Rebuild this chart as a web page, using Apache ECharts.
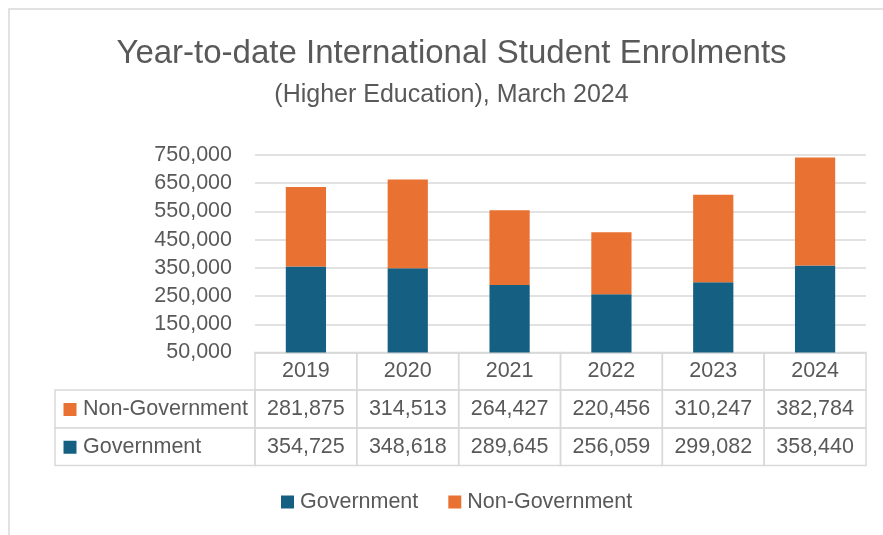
<!DOCTYPE html>
<html>
<head>
<meta charset="utf-8">
<script src="https://cdn.jsdelivr.net/npm/echarts@6/dist/echarts.min.js"></script>
<style>
  html, body { margin: 0; padding: 0; background: #ffffff; }
  #chart { width: 883px; height: 535px; }
</style>
</head>
<body>
<div id="chart"></div>
<script>
// ---- data ----
const years = ['2019', '2020', '2021', '2022', '2023', '2024'];
const government = [354725, 348618, 289645, 256059, 299082, 358440];
const nonGovernment = [281875, 314513, 264427, 220456, 310247, 382784];
const seriesNames = ['Government', 'Non-Government'];
const yMin = 50000;
const yMax = 750000;
const yStep = 100000;

// ---- layout / style constants ----
const W = 883, H = 535;
const gridLeft = 255, gridRight = 866, gridTop = 155, axisY = 352.5;
const tableLeft = 55;
const rowH = [37.5, 38, 37.5];
const colW = (gridRight - gridLeft) / years.length;
const textColor = '#595959';
const lineColor = '#d9d9d9';
const govColor = '#156082';
const nonGovColor = '#E97132';
const font = 'Liberation Sans, Arial, sans-serif';
const fs = 21.5;

const fmt = v => v.toLocaleString('en-US');

const chart = echarts.init(document.getElementById('chart'), null, { renderer: 'canvas' });

const cellStyle = (h) => ({
  width: colW, height: h, lineHeight: h,
  align: 'center', verticalAlign: 'middle',
  fontSize: fs, fontFamily: font, color: textColor,
  borderColor: lineColor, borderWidth: 1.5, padding: 0
});

const row1Top = axisY + rowH[0];
const row2Top = row1Top + rowH[1];

const headerCell = (top, h, name, color) => ({
  type: 'group',
  children: [
    { type: 'rect', shape: { x: tableLeft, y: top, width: gridLeft - tableLeft, height: h },
      style: { fill: '#fff', stroke: lineColor, lineWidth: 1.5 } },
    { type: 'rect', shape: { x: tableLeft + 8.5, y: top + h / 2 - 6, width: 13, height: 13 },
      style: { fill: color } },
    { type: 'text', x: tableLeft + 28, y: top + h / 2,
      style: { text: name, fill: textColor, font: fs + 'px ' + font, textVerticalAlign: 'middle', textAlign: 'left' } }
  ]
});

const option = {
  backgroundColor: '#ffffff',
  animation: false,
  title: [
    { text: 'Year-to-date International Student Enrolments', left: 446.5, top: 32, textAlign: 'center',
      textStyle: { fontSize: 33, fontWeight: 'normal', color: textColor, fontFamily: font } },
    { text: '(Higher Education), March 2024', left: 446.5, top: 78, textAlign: 'center',
      textStyle: { fontSize: 25, fontWeight: 'normal', color: textColor, fontFamily: font } }
  ],
  legend: {
    data: seriesNames,
    left: 276, top: 486,
    icon: 'rect', itemWidth: 13, itemHeight: 13, itemGap: 30,
    textStyle: { fontSize: fs, color: textColor, fontFamily: font, padding: [0, 0, 0, 1] }
  },
  grid: { left: gridLeft, right: W - gridRight, top: gridTop, bottom: H - axisY, containLabel: false },
  xAxis: {
    type: 'category',
    data: years,
    axisLine: { show: true, lineStyle: { color: lineColor, width: 1.5 } },
    axisTick: { show: false },
    axisLabel: {
      interval: 0, margin: 0, hideOverlap: false,
      formatter: (value, idx) => '{y|' + value + '}\n{a|' + fmt(nonGovernment[idx]) + '}\n{b|' + fmt(government[idx]) + '}',
      rich: { y: cellStyle(rowH[0]), a: cellStyle(rowH[1]), b: cellStyle(rowH[2]) }
    }
  },
  yAxis: {
    type: 'value',
    min: yMin, max: yMax, interval: yStep,
    axisLine: { show: false },
    axisTick: { show: false },
    splitLine: { lineStyle: { color: lineColor, width: 1.5 } },
    axisLabel: { margin: 23, fontSize: fs, color: textColor, fontFamily: font, formatter: v => fmt(v) }
  },
  series: [
    { name: seriesNames[0], type: 'bar', stack: 'total', data: government, barWidth: '39.5%',
      itemStyle: { color: govColor } },
    { name: seriesNames[1], type: 'bar', stack: 'total', data: nonGovernment, barWidth: '39.5%',
      itemStyle: { color: nonGovColor } }
  ],
  graphic: [
    { type: 'rect', silent: true, z: -10,
      shape: { x: 9, y: 9, width: W, height: H },
      style: { fill: 'none', stroke: '#d9d9d9', lineWidth: 1.5 } },
    headerCell(row1Top, rowH[1], seriesNames[1], nonGovColor),
    headerCell(row2Top, rowH[2], seriesNames[0], govColor)
  ]
};

chart.setOption(option);
</script>
</body>
</html>
